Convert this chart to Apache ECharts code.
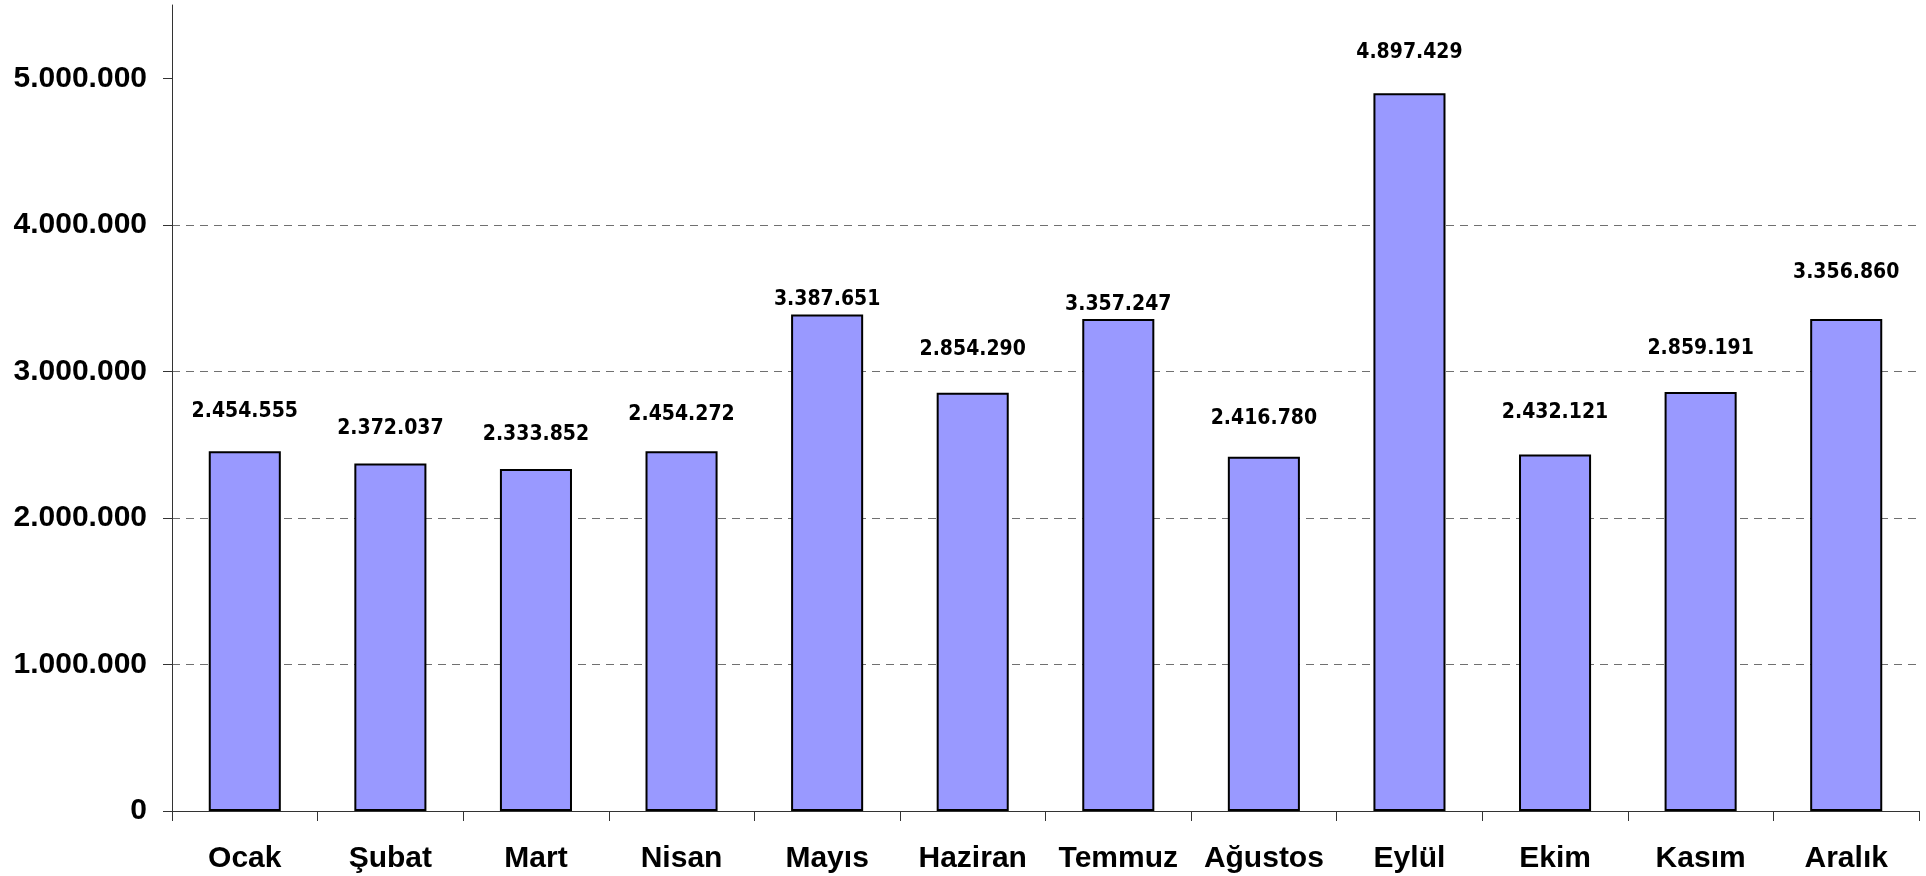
<!DOCTYPE html>
<html>
<head>
<meta charset="utf-8">
<script src="https://cdn.jsdelivr.net/npm/echarts@6/dist/echarts.min.js"></script>
<style>
  html, body { margin: 0; padding: 0; background: #fff; }
  #chart { width: 1926px; height: 876px; }
</style>
</head>
<body>
<div id="chart"></div>
<script>
const categories = ['Ocak', 'Şubat', 'Mart', 'Nisan', 'Mayıs', 'Haziran', 'Temmuz', 'Ağustos', 'Eylül', 'Ekim', 'Kasım', 'Aralık'];
const values = [2454555, 2372037, 2333852, 2454272, 3387651, 2854290, 3357247, 2416780, 4897429, 2432121, 2859191, 3356860];
const yTicks = [0, 1000000, 2000000, 3000000, 4000000, 5000000];
const yMax = 5500000;
// label distances above each bar (style only)
const labelDistances = [29, 24, 24, 26, 5, 33, 4, 28, 30, 32, 33, 36];

function fmt(v) {
  return String(Math.round(v)).replace(/\B(?=(\d{3})+(?!\d))/g, '.');
}

const chart = echarts.init(document.getElementById('chart'), null, { renderer: 'canvas' });
chart.setOption({
  animation: false,
  backgroundColor: '#ffffff',
  grid: { left: 172, right: 7, top: 5, bottom: 65, containLabel: false },
  xAxis: {
    type: 'category',
    data: categories,
    boundaryGap: true,
    axisLine: { show: true, lineStyle: { color: '#333', width: 1 } },
    axisTick: { show: true, alignWithLabel: false, length: 10, lineStyle: { color: '#333', width: 1 } },
    axisLabel: {
      interval: 0,
      margin: 33,
      color: '#000',
      fontFamily: '"Liberation Sans", Arial, sans-serif',
      fontWeight: 'bold',
      fontSize: 30
    },
    splitLine: { show: false }
  },
  yAxis: {
    type: 'value',
    min: 0,
    max: yMax,
    interval: 1000000,
    axisLine: { show: true, lineStyle: { color: '#333', width: 1 } },
    axisTick: { show: true, length: 9, customValues: yTicks, lineStyle: { color: '#333', width: 1 } },
    axisLabel: {
      customValues: yTicks,
      margin: 25,
      color: '#000',
      fontFamily: '"Liberation Sans", Arial, sans-serif',
      fontWeight: 'bold',
      fontSize: 30,
      formatter: fmt
    },
    splitLine: {
      show: true,
      showMaxLine: false,
      lineStyle: { color: '#707070', width: 1, type: [8, 6] }
    }
  },
  series: [{
    type: 'bar',
    barWidth: '49.5%',
    data: values.map((v, i) => ({
      value: v,
      label: { distance: labelDistances[i] }
    })),
    itemStyle: { color: '#9999FF', borderColor: '#000', borderWidth: 2 },
    label: {
      show: true,
      position: 'top',
      color: '#000',
      fontFamily: '"DejaVu Sans Condensed", "DejaVu Sans", sans-serif',
      fontWeight: 'bold',
      fontSize: 21,
      formatter: p => fmt(p.value)
    }
  }]
});
</script>
</body>
</html>
